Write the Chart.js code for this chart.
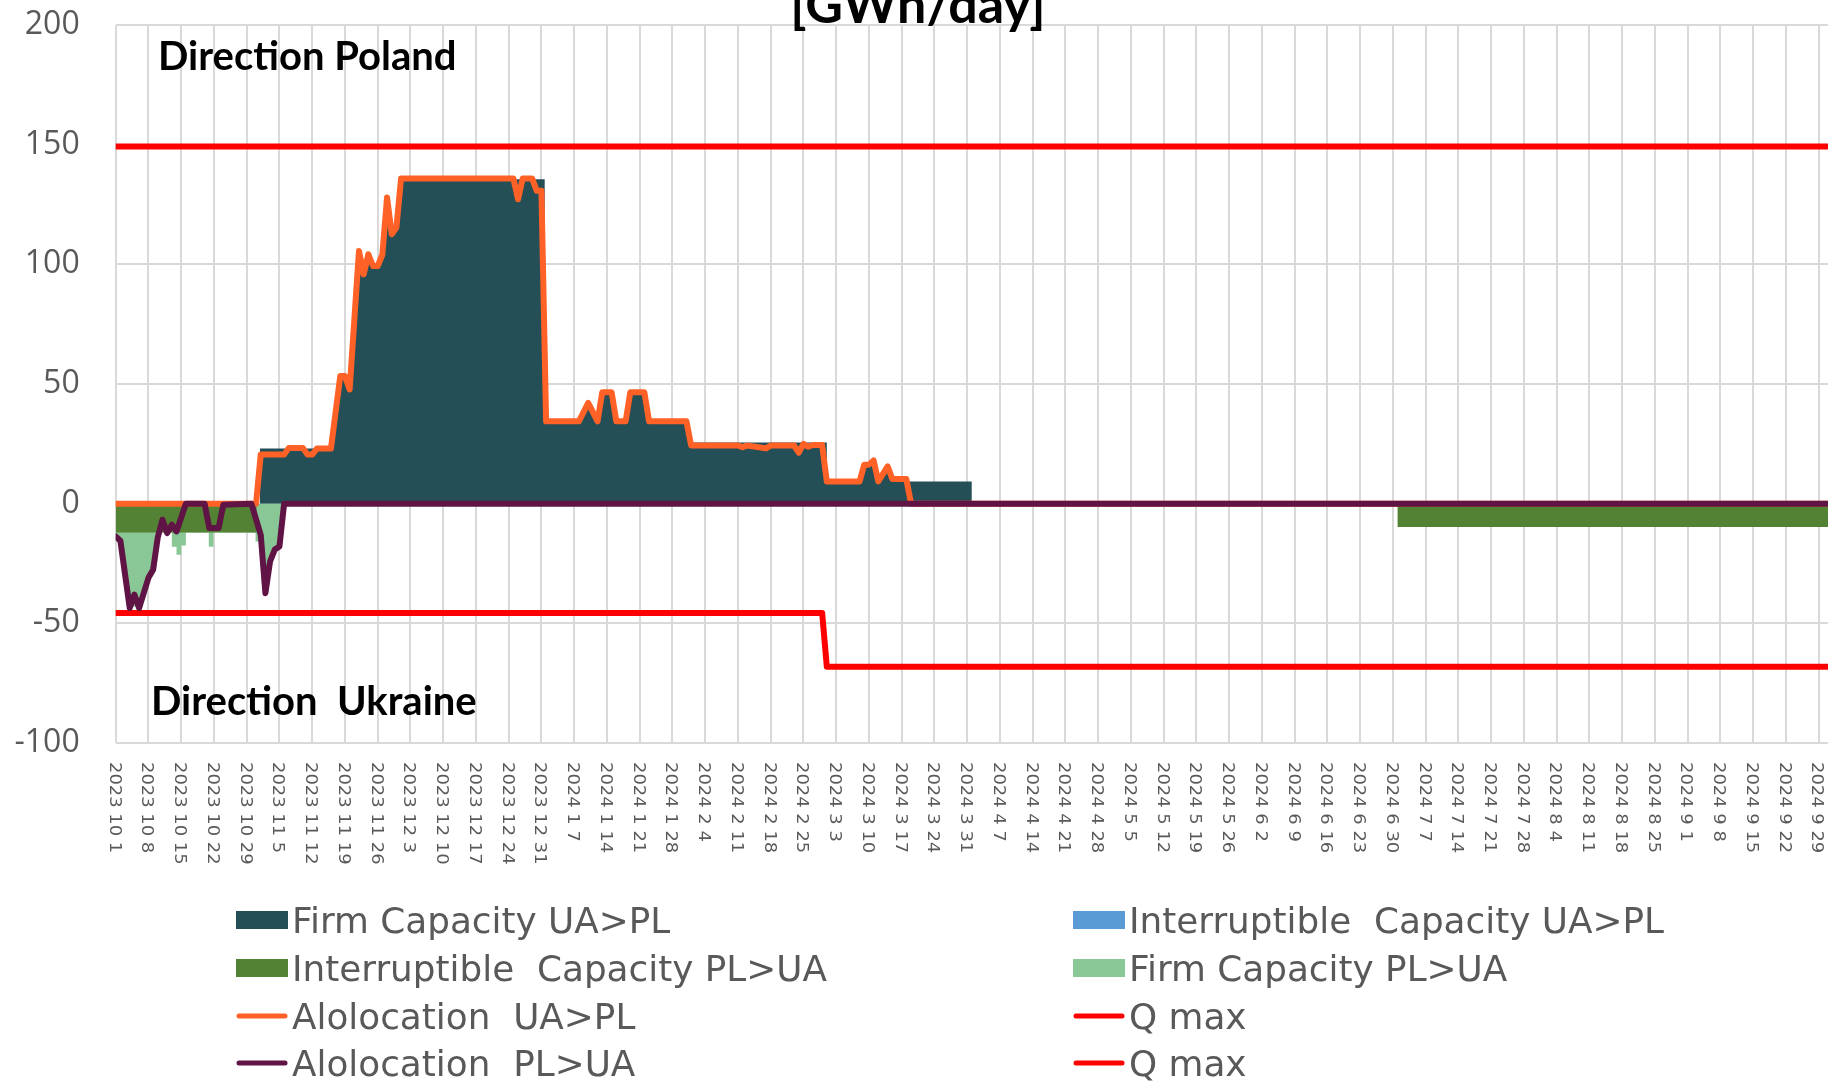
<!DOCTYPE html>
<html>
<head>
<meta charset="utf-8">
<title>UA-PL capacity and allocation</title>
<script src="https://cdn.jsdelivr.net/npm/chart.js@4.4.1/dist/chart.umd.min.js"></script>
<style>
  html, body { margin: 0; padding: 0; background: #fff; overflow: hidden; }
  #wrap { position: relative; width: 1835px; height: 1081px; }
</style>
</head>
<body>
<div id="wrap"><canvas id="chart"></canvas></div>
<script>
// x = day number, day 0 = 2023-10-01, day 366 = 2024-10-01
const tickLabels = [
  '2023 10 1', '2023 10 8', '2023 10 15', '2023 10 22', '2023 10 29',
  '2023 11 5', '2023 11 12', '2023 11 19', '2023 11 26',
  '2023 12 3', '2023 12 10', '2023 12 17', '2023 12 24', '2023 12 31',
  '2024 1 7', '2024 1 14', '2024 1 21', '2024 1 28',
  '2024 2 4', '2024 2 11', '2024 2 18', '2024 2 25',
  '2024 3 3', '2024 3 10', '2024 3 17', '2024 3 24', '2024 3 31',
  '2024 4 7', '2024 4 14', '2024 4 21', '2024 4 28',
  '2024 5 5', '2024 5 12', '2024 5 19', '2024 5 26',
  '2024 6 2', '2024 6 9', '2024 6 16', '2024 6 23', '2024 6 30',
  '2024 7 7', '2024 7 14', '2024 7 21', '2024 7 28',
  '2024 8 4', '2024 8 11', '2024 8 18', '2024 8 25',
  '2024 9 1', '2024 9 8', '2024 9 15', '2024 9 22', '2024 9 29'
];

// [day, GWh/day]
const firmUaPl = [
  [30.8, 0], [30.8, 23], [46, 23], [48, 53.3], [49, 53.3], [50, 47.7], [52, 105.6], [53, 95.8],
  [54, 104.2], [55, 99.3], [56, 99.3], [57, 104], [58, 127.9], [59, 112.6], [60, 115.4], [61, 135.6],
  [91.7, 135.6], [91.7, 35], [99, 35], [101, 42.1], [103, 35], [104, 46.6], [106, 46.6], [107, 35],
  [109, 35], [110, 46.6], [113, 46.6], [114, 35], [122, 35], [123, 25.6], [152, 25.6], [152, 9.3],
  [159, 9.3], [160, 16.3], [161, 16.3], [162, 18.1], [163, 9.3], [165, 15.6], [166, 9.3],
  [183, 9.3], [183, 0]
];
const intUaPl = [[0, 0], [366, 0]];
const intPlUa = [[0, -12], [30.1, -12], [30.1, 0], [274, 0], [274, -9.7], [366, -9.7]];
const firmPlUa = [
  [0, -13.7], [1, -15.5], [3, -43.6], [4, -43], [5, -43.6], [7, -31], [8, -27.6], [9, -14],
  [9.5, -12], [12, -12], [12, -18], [13, -18], [13, -21.3], [14, -21.3], [14, -17.5], [15, -17.5],
  [15, -12], [19.9, -12], [19.9, -18], [20.9, -18], [20.9, -12], [29.9, -12], [29.9, -15.8],
  [30.8, -15.8], [31, -14], [32, -36], [33, -24], [34, -19.2], [35, -17.9], [36, 0]
];
const allocUaPl = [
  [0, 0], [30, 0], [31, 20.5], [36, 20.5], [37, 23.3], [40, 23.3], [41, 20.5], [42, 20.5],
  [43, 23], [46, 23], [48, 53.3], [49, 53.3], [50, 47.7], [52, 105.6], [53, 95.8], [54, 104.2],
  [55, 99.3], [56, 99.3], [57, 104], [58, 127.9], [59, 112.6], [60, 115.4], [61, 135.9], [85, 135.9],
  [86, 127.2], [87, 135.9], [89, 135.9], [90, 130.7], [91, 130.7], [92, 34.4], [99, 34.4], [101, 42.1],
  [103, 34.4], [104, 46.6], [106, 46.6], [107, 34.4], [109, 34.4], [110, 46.6], [113, 46.6], [114, 34.4],
  [122, 34.4], [123, 24.3], [133, 24.3], [134, 23.6], [135, 24.3], [139, 23.1], [140, 24.3], [145, 24.3],
  [146, 21.3], [147, 25], [148, 23.8], [149, 24.5], [151, 24.5], [152, 9.3], [159, 9.3], [160, 16.3],
  [161, 16.3], [162, 18.1], [163, 9.3], [165, 15.6], [166, 10.3], [169, 10.3], [170, 0], [366, 0]
];
const allocPlUa = [
  [0, -13.7], [1, -15.5], [3, -43.6], [4, -38], [5, -43.6], [7, -31], [8, -27.6], [9, -14],
  [10, -6.7], [11, -12.3], [12, -8.8], [13, -11.6], [15, 0], [19, 0], [20, -10.2], [22, -10.2],
  [23, -0.5], [29, 0], [31, -13], [32, -37.4], [33, -24.1], [34, -19.2], [35, -17.9], [36, 0], [366, 0]
];
const qMaxUp = [[0, 149.2], [366, 149.2]];
const qMaxDown = [[0, -45.7], [151, -45.7], [152, -68.1], [366, -68.1]];

const toXY = pts => pts.map(([x, y]) => ({ x, y }));

function area(label, pts, color, order) {
  return {
    label, data: toXY(pts), order, kind: 'box',
    backgroundColor: color, borderColor: 'rgba(0,0,0,0)', borderWidth: 0,
    fill: 'origin', pointRadius: 0, tension: 0
  };
}
function line(label, pts, color, order) {
  return {
    label, data: toXY(pts), order, kind: 'line',
    borderColor: color, backgroundColor: color, borderWidth: 6,
    borderCapStyle: 'round', borderJoinStyle: 'round',
    fill: false, pointRadius: 0, tension: 0
  };
}

const datasets = [
  area('Firm Capacity UA>PL', firmUaPl, '#254F57', 7),
  area('Interruptible  Capacity UA>PL', intUaPl, '#5B9BD5', 6),
  area('Interruptible  Capacity PL>UA', intPlUa, '#548235', 4),
  area('Firm Capacity PL>UA', firmPlUa, '#8AC796', 5),
  line('Alolocation  UA>PL', allocUaPl, '#FF6126', 3),
  line('Q max', qMaxUp, '#FF0000', 1),
  line('Alolocation  PL>UA', allocPlUa, '#5F1445', 0),
  line('Q max', qMaxDown, '#FF0000', 2)
];

// custom drawing: title, direction notes, rotated date labels, two-column legend
const decorPlugin = {
  id: 'decor',
  afterDraw(chart) {
    const ctx = chart.ctx;
    const xs = chart.scales.x;
    ctx.save();

    ctx.fillStyle = '#000';
    ctx.textAlign = 'center';
    ctx.textBaseline = 'alphabetic';
    ctx.font = 'bold 52px Lato';
    ctx.fillText('[GWh/day]', 918, 23);

    ctx.textAlign = 'left';
    ctx.font = 'bold 40px Lato';
    ctx.fillText('Direction Poland', 158, 70);
    ctx.fillText('Direction  Ukraine', 151, 715);

    ctx.fillStyle = '#595959';
    ctx.font = '16px "DejaVu Sans"';
    ctx.textBaseline = 'middle';
    xs.ticks.forEach((t, i) => {
      if (!tickLabels[i]) return;
      ctx.save();
      ctx.translate(xs.getPixelForValue(t.value), 762);
      ctx.rotate(Math.PI / 2);
      ctx.scale(1.12, 1);
      ctx.fillText(tickLabels[i], 0, 2);
      ctx.restore();
    });

    const rows = [923.5, 971.5, 1019.5, 1066.5];
    const cols = [236, 1073];
    ctx.font = '35.8px "DejaVu Sans"';
    chart.data.datasets.forEach((ds, i) => {
      const x = cols[i % 2];
      const y = rows[Math.floor(i / 2)];
      const sy = y - 3.5;
      if (ds.kind === 'box') {
        ctx.fillStyle = ds.backgroundColor;
        ctx.fillRect(x, sy - 9, 52, 18);
      } else {
        ctx.strokeStyle = ds.borderColor;
        ctx.lineWidth = 5;
        ctx.lineCap = 'round';
        ctx.beginPath();
        ctx.moveTo(x + 3, sy);
        ctx.lineTo(x + 49, sy);
        ctx.stroke();
      }
      ctx.fillStyle = '#595959';
      ctx.fillText(ds.label, x + 56, y);
    });
    ctx.restore();
  }
};

new Chart(document.getElementById('chart'), {
  type: 'line',
  data: { datasets },
  options: {
    responsive: true,
    maintainAspectRatio: false,
    animation: false,
    layout: { padding: { top: 25, right: 7, left: 0, bottom: 0 } },
    plugins: { legend: { display: false }, tooltip: { enabled: false } },
    scales: {
      x: {
        type: 'linear', min: 0, max: 366, bounds: 'data',
        ticks: { stepSize: 7, display: false },
        afterBuildTicks: s => { s.ticks = s.ticks.filter(t => t.value % 7 === 0); },
        afterFit: s => { s.height = 338; },
        grid: { color: '#D9D9D9', lineWidth: 2, drawTicks: false },
        border: { display: false }
      },
      y: {
        min: -100, max: 200,
        ticks: { stepSize: 50, color: '#595959', font: { family: 'Open Sans', size: 32 }, padding: 36 },
        afterFit: s => { s.width = 115.7; s.paddingTop = 0; s.paddingBottom = 0; },
        grid: { color: '#D9D9D9', lineWidth: 2, drawTicks: false },
        border: { display: false }
      }
    }
  },
  plugins: [decorPlugin]
});
</script>
</body>
</html>
